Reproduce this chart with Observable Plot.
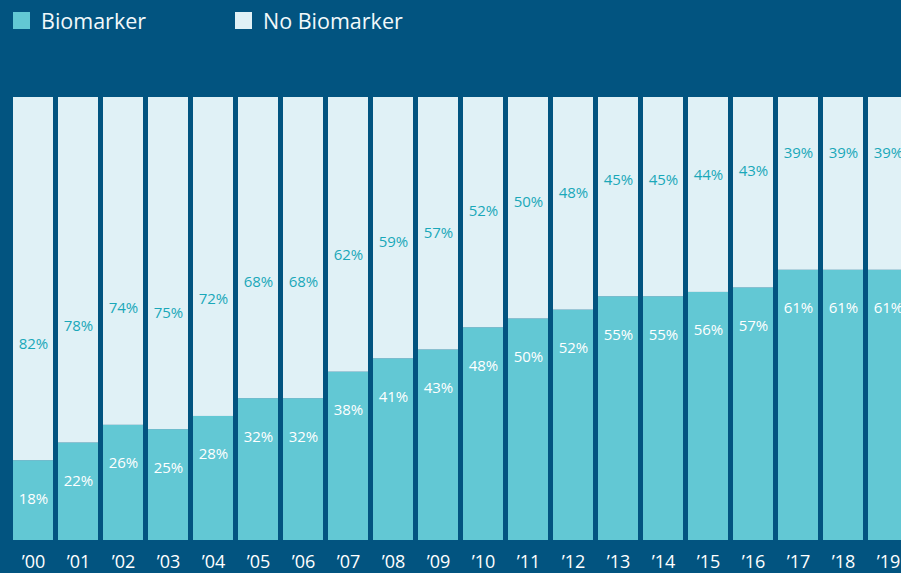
<!DOCTYPE html>
<html>
<head>
<meta charset="utf-8">
<script src="https://cdn.jsdelivr.net/npm/d3@7"></script>
<script src="https://cdn.jsdelivr.net/npm/@observablehq/plot@0.6"></script>
<style>
  html, body { margin: 0; padding: 0; background: #025480; overflow: hidden; }
  #wrap { position: relative; width: 901px; height: 573px; font-family: "Open Sans", Lato, sans-serif; }
  .lg { position: absolute; top: 12px; width: 17px; height: 17px; }
  .lt { position: absolute; top: 7px; font-size: 21.5px; color: #f2f9fb; line-height: 28px; font-weight: 500; }
  svg { display: block; }
</style>
</head>
<body>
<div id="wrap">
  <div class="lg" style="left:13px;background:#62c8d4"></div>
  <div class="lt" style="left:41px">Biomarker</div>
  <div class="lg" style="left:235px;background:#e0f1f6"></div>
  <div class="lt" style="left:263px">No Biomarker</div>
  <div id="chart"></div>
</div>
<script>
const years = ["’00","’01","’02","’03","’04","’05","’06","’07","’08","’09","’10","’11","’12","’13","’14","’15","’16","’17","’18","’19"];
const biomarker = [18,22,26,25,28,32,32,38,41,43,48,50,52,55,55,56,57,61,61,61];
const noBiomarker = [82,78,74,75,72,68,68,62,59,57,52,50,48,45,45,44,43,39,39,39];

const data = years.map((y, i) => ({year: y, bio: biomarker[i], nobio: noBiomarker[i], total: biomarker[i] + noBiomarker[i]}));

const chart = Plot.plot({
  width: 901,
  height: 573,
  marginTop: 97,
  marginBottom: 33,
  marginLeft: 0,
  marginRight: 0,
  style: {background: "transparent", fontFamily: "'Open Sans', Lato, sans-serif", overflow: "hidden"},
  x: {domain: years, range: [8, 913], padding: 5/45, label: null},
  y: {domain: [0, 100], axis: null},
  marks: [
    Plot.barY(data, {x: "year", y1: 0, y2: "bio", fill: "#62c8d4"}),
    Plot.barY(data, {x: "year", y1: "bio", y2: "total", fill: "#e0f1f6"}),
    Plot.text(data, {x: "year", y: "bio", text: d => d.bio + "%", dy: 38, fill: "#ffffff", fontSize: 15, fontWeight: 500}),
    Plot.text(data, {x: "year", y: "bio", text: d => d.nobio + "%", dy: -117, fill: "#1aa8b9", fontSize: 15, fontWeight: 500}),
    Plot.axisX({tickSize: 0, tickPadding: 15, fontSize: 18, fontWeight: 500, color: "#ffffff", label: null})
  ]
});
document.getElementById("chart").appendChild(chart);
</script>
</body>
</html>
